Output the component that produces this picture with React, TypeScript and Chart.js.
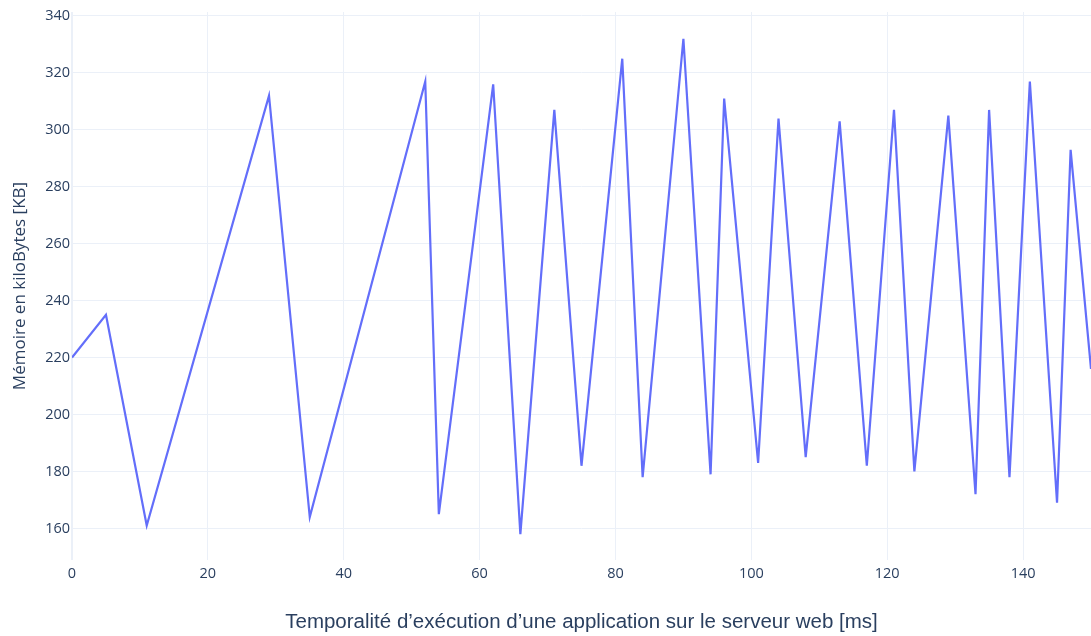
import React, { useEffect, useRef } from "react";
import { Chart, registerables } from "chart.js";

Chart.register(...registerables);

const timeMs = [0, 5, 11, 29, 35, 52, 54, 62, 66, 71, 75, 81, 84, 90, 94, 96, 101, 104, 108, 113, 117, 121, 124, 129, 133, 135, 138, 141, 145, 147, 150];
const memoryKB = [220, 235, 161, 312, 164, 317, 165, 316, 158, 307, 182, 325, 178, 332, 179, 311, 183, 304, 185, 303, 182, 307, 180, 305, 172, 307, 178, 317, 169, 293, 216];
const xTicks = [0, 20, 40, 60, 80, 100, 120, 140];
const yTicks = [160, 180, 200, 220, 240, 260, 280, 300, 320, 340];

const xTitle = "Temporalité d’exécution d’une application sur le serveur web [ms]";
const yTitle = "Mémoire en kiloBytes [KB]";

export default function App() {
  const ref = useRef<HTMLCanvasElement | null>(null);

  useEffect(() => {
    if (!ref.current) return;
    const textColor = "#2a3f5f";
    const gridColor = "#ebf0f8";
    const chart = new Chart(ref.current, {
      type: "line",
      data: {
        datasets: [
          {
            data: timeMs.map((t, i) => ({ x: t, y: memoryKB[i] })),
            borderColor: "#636efa",
            borderWidth: 2.2,
            pointRadius: 0,
            tension: 0,
            fill: false,
          },
        ],
      },
      options: {
        responsive: false,
        animation: false,
        layout: { padding: { left: 0, right: 0, top: 12, bottom: 0 } },
        plugins: { legend: { display: false }, tooltip: { enabled: false } },
        scales: {
          x: {
            type: "linear",
            min: 0,
            max: 150,
            border: { display: false },
            grid: {
              color: gridColor,
              lineWidth: (ctx: any) => (ctx.tick && ctx.tick.value === 0 ? 2 : 1),
              drawTicks: false,
            },
            afterBuildTicks: (scale: any) => {
              scale.ticks = xTicks.map((v) => ({ value: v }));
            },
            afterFit: (scale: any) => {
              scale.height = 76;
            },
            ticks: {
              color: textColor,
              font: { family: "'Open Sans', sans-serif", size: 14.5 },
              padding: 5,
              maxRotation: 0,
              autoSkip: false,
            },
            title: {
              display: true,
              text: xTitle,
              color: textColor,
              font: { family: "'Liberation Sans', Arial, sans-serif", size: 20.5 },
              padding: { top: 0, bottom: 1 },
            },
          },
          y: {
            type: "linear",
            min: 148.9,
            max: 341.4,
            border: { display: false },
            grid: { color: gridColor, lineWidth: 1, drawTicks: false },
            afterBuildTicks: (scale: any) => {
              scale.ticks = yTicks.map((v) => ({ value: v }));
            },
            afterFit: (scale: any) => {
              scale.width = 72;
            },
            ticks: {
              color: textColor,
              font: { family: "'Open Sans', sans-serif", size: 14.5 },
              padding: 2,
              autoSkip: false,
            },
            title: {
              display: true,
              text: yTitle,
              color: textColor,
              font: { family: "'Open Sans', sans-serif", size: 17 },
              padding: { top: 10, bottom: 0 },
            },
          },
        },
      },
    });
    return () => chart.destroy();
  }, []);

  return (
    <div style={{ position: "fixed", left: 0, top: 0, width: 1091, height: 636, background: "#fff" }}>
      <canvas ref={ref} width={1091} height={636} style={{ display: "block" }} />
    </div>
  );
}
